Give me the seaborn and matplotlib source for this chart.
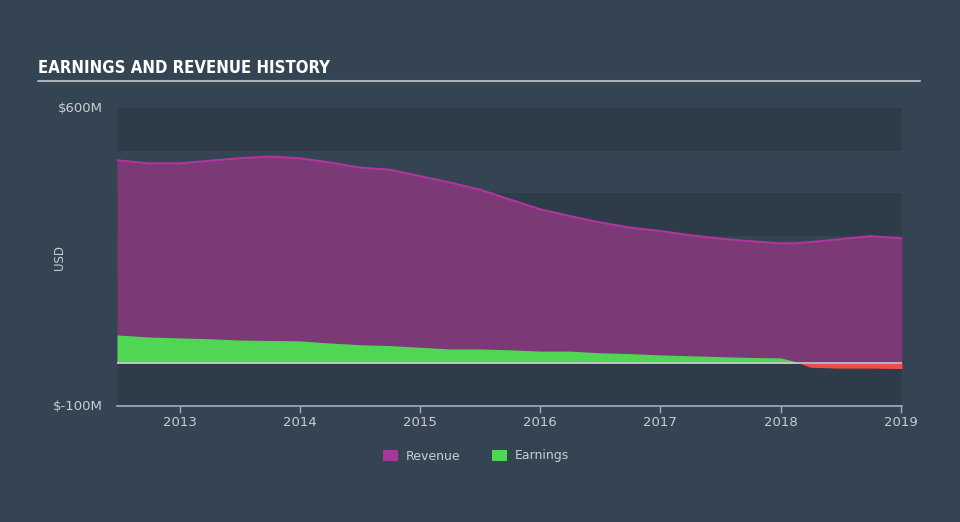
import numpy as np
import pandas as pd
import matplotlib
matplotlib.use("Agg")
import matplotlib.pyplot as plt
import seaborn as sns
from matplotlib.patches import Patch

# ---- data (values in $M, x in decimal years) ----
years = [2012.48, 2012.75, 2013.0, 2013.25, 2013.5, 2013.75, 2014.0, 2014.25,
         2014.5, 2014.75, 2015.0, 2015.25, 2015.5, 2015.75, 2016.0, 2016.25,
         2016.5, 2016.75, 2017.0, 2017.25, 2017.5, 2017.75, 2018.0, 2018.1,
         2018.25, 2018.5, 2018.75, 2019.01]
revenue = [477, 470, 470, 476, 482, 486, 482, 472, 460, 455, 440, 425, 408,
           385, 362, 346, 331, 319, 311, 301, 293, 287, 282, 282, 285, 292,
           299, 294]
earnings = [67, 62, 60, 58, 55, 54, 53, 48, 44, 42, 38, 34, 34, 32, 29, 29,
            25, 23, 20, 18, 16, 14, 13, 6, -9, -11, -11, -12]
tick_years = [2013, 2014, 2015, 2016, 2017, 2018, 2019]
y_ticks = [-100, 600]
y_tick_labels = ["$-100M", "$600M"]

df = pd.DataFrame({"year": years, "Revenue": revenue, "Earnings": earnings})

BG = "#344452"
DARK = "#2e3c4a"
PURPLE_FILL = "#7b3975"
PURPLE_LINE = "#b1359f"
GREEN = "#50d654"
RED = "#ee4d4a"
TXT = "#c9ced3"

sns.set_theme(style="dark")
plt.rcParams["font.family"] = ["DejaVu Sans"]

fig = plt.figure(figsize=(9.6, 5.22), dpi=100, facecolor=BG)
ax = fig.add_axes([117/960, 116/522, 785/960, 298/522])
ax.set_facecolor(BG)

# alternating bands
for lo in (-100, 100, 300, 500):
    ax.axhspan(lo, lo + 100, color=DARK, zorder=0, lw=0)

x = np.array(years)
rev = np.array(revenue, dtype=float)
earn = np.array(earnings, dtype=float)

ax.fill_between(x, 0, rev, color=PURPLE_FILL, lw=0, zorder=1)
sns.lineplot(data=df, x="year", y="Revenue", ax=ax, color=PURPLE_LINE, lw=1.5, zorder=2)
ax.fill_between(x, 0, earn, where=earn >= 0, interpolate=True, color=GREEN, lw=0, zorder=3)
ax.fill_between(x, 0, earn, where=earn <= 0, interpolate=True, color=RED, lw=0, zorder=3)
ax.axhline(0, color="#c5c9cd", lw=1.2, zorder=4)

ax.set_xlim(2012.48, 2019.01)
ax.set_ylim(-100, 600)
ax.set_xticks(tick_years)
ax.set_xticklabels([str(t) for t in tick_years])
ax.set_yticks(y_ticks)
ax.set_yticklabels(y_tick_labels)
ax.tick_params(axis="x", colors="#9fb0c0", labelcolor=TXT, length=5, width=1,
               direction="out", labelsize=9.5, pad=2, bottom=True)
ax.tick_params(axis="y", length=0, labelcolor=TXT, labelsize=9.5, pad=10)
for lbl in ax.get_yticklabels():
    lbl.set_verticalalignment("center")
ax.set_xlabel("")
ax.set_ylabel("")
for s in ("top", "right", "left"):
    ax.spines[s].set_visible(False)
ax.spines["bottom"].set_color("#9fb0c0")
ax.spines["bottom"].set_linewidth(1.2)
ax.grid(False)

fig.text(60/960, 1 - 258/522, "USD", color=TXT, fontsize=8.5, rotation=90,
         ha="center", va="center")

# title + rule
fig.text(38/960, 1 - 68/522, "EARNINGS AND REVENUE HISTORY", color="white",
         fontsize=12, fontweight="bold", fontstretch="condensed",
         va="center", ha="left")
fig.add_artist(plt.Line2D([38/960, 920/960], [1 - 81/522, 1 - 81/522],
                          color="#a9b0b7", lw=1.5))

handles = [Patch(facecolor="#a8379c", edgecolor="none", label="Revenue"),
           Patch(facecolor=GREEN, edgecolor="none", label="Earnings")]
leg = fig.legend(handles=handles, loc="center", bbox_to_anchor=(476/960, 1 - 456/522),
                 ncol=2, frameon=False, fontsize=9, handlelength=1.2, handleheight=1.0,
                 columnspacing=2.5, handletextpad=0.6)
for t in leg.get_texts():
    t.set_color(TXT)

fig.savefig("out.png", dpi=100, facecolor=BG)
